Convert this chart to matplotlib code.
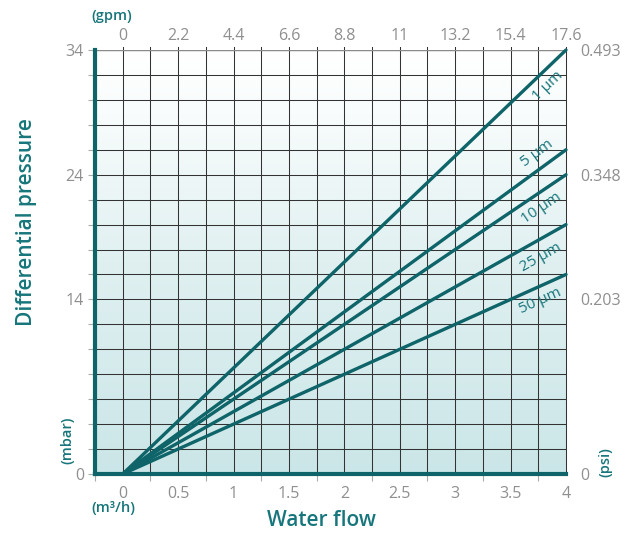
import numpy as np
import matplotlib
matplotlib.use("Agg")
import matplotlib.pyplot as plt
from matplotlib.colors import LinearSegmentedColormap

plt.rcParams['font.family'] = ['Open Sans', 'DejaVu Sans']

# data
flow_max = 4.0
filters = ['1 µm', '5 µm', '10 µm', '25 µm', '50 µm']
dp_at_max = [34, 26, 24, 20, 16]          # mbar at 4 m3/h
label_pos = [3.84, 3.74, 3.78, 3.77, 3.77]  # x of the rotated labels
label_off = [-1.5, 1.4, -1.4, -1.5, -1.2]

x_ticks = [0, 0.5, 1, 1.5, 2, 2.5, 3, 3.5, 4]
x_labels = ['0', '0.5', '1', '1.5', '2', '2.5', '3', '3.5', '4']
gpm_labels = ['0', '2.2', '4.4', '6.6', '8.8', '11', '13.2', '15.4', '17.6']
y_ticks = [0, 14, 24, 34]
psi_labels = ['0', '0.203', '0.348', '0.493']

teal = '#0e6468'
txt_teal = '#17767b'
gray = '#8f8f8f'

fig = plt.figure(figsize=(6.3, 5.36), dpi=100)
ax = fig.add_axes([95/630, 1-474/536, (566-95)/630, (474-50)/536])
ax.set_xlim(-0.25, 4)
ax.set_ylim(0, 34)

# background gradient
cmap = LinearSegmentedColormap.from_list(
    'bg', [(0, '#cbe6e8'), (0.5, '#e0f0f1'), (0.85, '#f8fcfc'), (1, '#ffffff')])
grad = np.linspace(0, 1, 256).reshape(-1, 1)
ax.imshow(grad, cmap=cmap, origin='lower', extent=[-0.25, 4, 0, 34], aspect='auto', zorder=0)

# grid
for gx in np.arange(0, 4.01, 0.25):
    ax.plot([gx, gx], [0, 34.25], color='#333333', lw=0.75, zorder=1, clip_on=False)
for gy in np.arange(2, 34.1, 2):
    ax.plot([-0.25, 4], [gy, gy], color='#333333', lw=0.75, zorder=1)
ax.plot([-0.25, 4], [34, 34], color='#8a8a8a', lw=1.0, zorder=1)

# lines
for name, dp, lx, off in zip(filters, dp_at_max, label_pos, label_off):
    ax.plot([0, flow_max], [0, dp], color=teal, lw=2.4, solid_capstyle='round', zorder=3, clip_on=False)
    p0 = ax.transData.transform((0, 0))
    p1 = ax.transData.transform((flow_max, dp))
    ang = np.degrees(np.arctan2(p1[1]-p0[1], p1[0]-p0[0]))
    ax.text(lx, dp*lx/flow_max + off, name, rotation=ang, color=txt_teal, fontsize=11,
            ha='center', va='center', rotation_mode='anchor', zorder=4)

# spines
for s in ['top', 'right']:
    ax.spines[s].set_visible(False)
ax.spines['left'].set_color(teal)
ax.spines['left'].set_linewidth(3)
ax.spines['bottom'].set_color(teal)
ax.spines['bottom'].set_linewidth(3)
ax.spines['left'].set_zorder(5)
ax.spines['bottom'].set_zorder(5)

ax.set_xticks(x_ticks)
ax.set_xticklabels(x_labels)
ax.set_xticks(np.arange(-0.25, 4, 0.5), minor=True)
ax.tick_params(axis='x', which='major', length=0, pad=9, labelsize=11.5, labelcolor=gray)
ax.tick_params(axis='x', which='minor', length=5, color='#aaaaaa', width=0.8)
ax.set_yticks(y_ticks)
ax.set_yticks(np.arange(0, 34.1, 2), minor=True)
ax.tick_params(axis='y', which='major', length=5, color='#aaaaaa', width=0.8, pad=3, labelsize=11.5, labelcolor=gray)
ax.tick_params(axis='y', which='minor', length=5, color='#aaaaaa', width=0.8)

# top gpm axis
ax2 = ax.twiny()
ax2.set_xlim(ax.get_xlim())
ax2.set_xticks(x_ticks)
ax2.set_xticklabels(gpm_labels)
ax2.tick_params(axis='x', length=0, pad=4, labelsize=11.5, labelcolor=gray)
for s in ax2.spines.values():
    s.set_visible(False)

# right psi axis
ax3 = ax.twinx()
ax3.set_ylim(ax.get_ylim())
ax3.set_yticks(y_ticks)
ax3.set_yticklabels(psi_labels)
ax3.tick_params(axis='y', length=0, pad=10, labelsize=11.5, labelcolor=gray)
for s in ax3.spines.values():
    s.set_visible(False)
ax3.set_xlim(ax.get_xlim())

# unit labels and titles
fig.text(67/630, 1-440/536, '(mbar)', rotation=90, color=txt_teal, fontsize=10.5,
         fontweight='semibold', ha='center', va='center')
fig.text(605/630, 1-462/536, '(psi)', rotation=90, color=txt_teal, fontsize=10.5,
         fontweight='semibold', ha='center', va='center')
fig.text(113/630, 1-508/536, '(m³/h)', color=txt_teal, fontsize=10.5,
         fontweight='semibold', ha='center', va='center')
fig.text(112/630, 1-16/536, '(gpm)', color=txt_teal, fontsize=10.5,
         fontweight='semibold', ha='center', va='center')
fig.text(27/630, 1-222/536, 'Differential pressure', rotation=90, color=txt_teal, fontsize=15,
         fontweight='semibold', ha='center', va='center')
fig.text(321/630, 1-521/536, 'Water flow', color=txt_teal, fontsize=15,
         fontweight='semibold', ha='center', va='center')

fig.savefig('out.png', dpi=100)
